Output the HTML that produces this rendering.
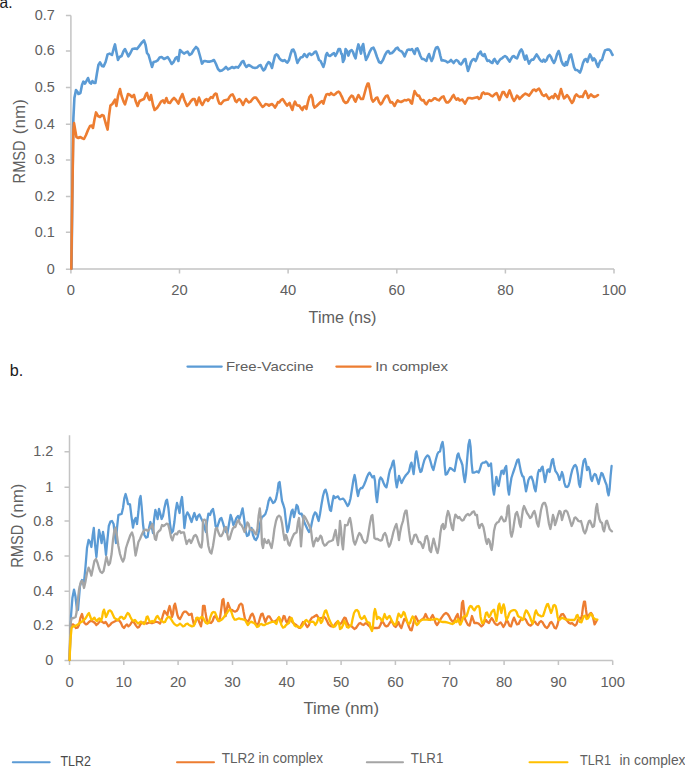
<!DOCTYPE html>
<html lang="en"><head><meta charset="utf-8"><title>RMSD plots</title>
<style>html,body{margin:0;padding:0;background:#fff}body{width:685px;height:768px;overflow:hidden}svg{display:block}text{font-family:"Liberation Sans", sans-serif;fill:#606060}.ln{fill:none;stroke-linejoin:round;stroke-linecap:round}.ax{stroke:#c4c4c4;stroke-width:1.5;fill:none;shape-rendering:auto}</style></head><body>
<svg width="685" height="768" viewBox="0 0 685 768">
<rect width="685" height="768" fill="#ffffff"/>
<path class="ax" d="M70.9,15.5 V269.1 H614.0 M65.9,269.2 H70.9 M65.9,232.3 H70.9 M65.9,196.6 H70.9 M65.9,159.9 H70.9 M65.9,124.2 H70.9 M65.9,87.6 H70.9 M65.9,51.0 H70.9 M65.9,15.5 H70.9 M70.9,269.1 V273.6 M179.5,269.1 V273.6 M288.1,269.1 V273.6 M396.8,269.1 V273.6 M505.4,269.1 V273.6 M614.0,269.1 V273.6"/>
<text transform="translate(54.9,273.5) scale(.95,1)" font-size="15.2" text-anchor="end">0</text>
<text transform="translate(54.9,236.6) scale(.95,1)" font-size="15.2" text-anchor="end">0.1</text>
<text transform="translate(54.9,200.9) scale(.95,1)" font-size="15.2" text-anchor="end">0.2</text>
<text transform="translate(54.9,164.2) scale(.95,1)" font-size="15.2" text-anchor="end">0.3</text>
<text transform="translate(54.9,128.5) scale(.95,1)" font-size="15.2" text-anchor="end">0.4</text>
<text transform="translate(54.9,91.9) scale(.95,1)" font-size="15.2" text-anchor="end">0.5</text>
<text transform="translate(54.9,55.3) scale(.95,1)" font-size="15.2" text-anchor="end">0.6</text>
<text transform="translate(54.9,19.8) scale(.95,1)" font-size="15.2" text-anchor="end">0.7</text>
<text transform="translate(70.9,295.2) scale(.97,1)" font-size="15.2" text-anchor="middle">0</text>
<text transform="translate(179.5,295.2) scale(.97,1)" font-size="15.2" text-anchor="middle">20</text>
<text transform="translate(288.1,295.2) scale(.97,1)" font-size="15.2" text-anchor="middle">40</text>
<text transform="translate(396.8,295.2) scale(.97,1)" font-size="15.2" text-anchor="middle">60</text>
<text transform="translate(505.4,295.2) scale(.97,1)" font-size="15.2" text-anchor="middle">80</text>
<text transform="translate(614.0,295.2) scale(.97,1)" font-size="15.2" text-anchor="middle">100</text>
<text transform="translate(24.8,183.4) rotate(-90)" font-size="16.4" textLength="43" lengthAdjust="spacingAndGlyphs">RMSD</text>
<text transform="translate(24.8,134.2) rotate(-90)" font-size="16.4" textLength="35" lengthAdjust="spacingAndGlyphs">(nm)</text>
<text x="308.6" y="322.8" font-size="16.8" textLength="67.9" lengthAdjust="spacingAndGlyphs">Time (ns)</text>
<path class="ln" stroke="#5b9bd5" stroke-width="2.6" d="M71.5,268.8 L72.3,200.0 L73.2,125.0 L73.4,118.0 L74.4,98.0 L76.0,90.0 L77.6,92.0 L78.4,94.0 L80.4,93.0 L82.0,85.0 L83.4,81.6 L85.0,83.6 L86.4,81.0 L88.0,78.0 L89.6,82.4 L91.0,83.6 L92.4,81.0 L94.0,83.0 L95.4,83.0 L97.0,73.0 L98.4,65.0 L100.0,62.4 L102.0,66.0 L103.6,66.4 L105.6,62.0 L107.6,54.4 L109.6,53.6 L112.0,55.0 L113.6,49.0 L115.0,44.4 L116.4,52.0 L118.0,60.0 L119.6,57.0 L121.6,56.0 L123.6,51.0 L125.0,49.0 L126.4,52.0 L128.4,56.4 L130.4,53.0 L132.4,49.0 L135.0,48.4 L137.0,49.0 L139.6,45.6 L142.0,42.4 L144.0,40.4 L145.6,45.0 L147.0,53.0 L148.6,55.0 L150.0,60.0 L152.0,67.0 L153.6,62.0 L155.6,61.6 L157.6,60.4 L159.6,57.6 L161.6,57.0 L164.0,59.0 L166.0,58.0 L167.6,57.0 L169.6,60.0 L171.6,64.0 L173.6,62.0 L175.6,58.0 L177.0,57.0 L178.4,61.0 L180.0,50.0 L182.0,52.0 L184.0,53.6 L186.0,52.4 L187.6,51.6 L189.6,55.0 L191.6,53.6 L193.6,50.0 L196.0,47.0 L198.0,49.0 L200.0,56.0 L202.0,63.6 L204.0,61.0 L205.0,61.0 L207.4,61.6 L210.0,61.6 L212.0,61.0 L214.0,60.0 L216.0,64.0 L218.0,69.0 L220.0,71.0 L222.0,70.4 L224.0,69.0 L226.0,67.0 L228.0,69.4 L230.0,68.4 L232.0,67.0 L234.0,68.0 L236.0,67.0 L238.0,67.6 L240.0,65.0 L242.0,61.6 L243.4,61.0 L245.0,65.0 L246.4,67.0 L248.6,65.0 L250.6,66.0 L253.0,67.6 L255.0,68.0 L257.0,67.6 L259.0,65.6 L260.6,65.0 L262.0,68.0 L263.4,70.4 L265.0,69.0 L266.6,65.0 L268.6,62.0 L270.0,63.0 L272.0,68.0 L273.4,62.0 L275.0,55.6 L276.6,54.4 L278.0,55.6 L279.4,58.4 L281.0,60.0 L283.0,61.0 L284.6,60.0 L286.0,61.6 L287.4,62.6 L289.0,60.0 L290.6,54.0 L292.0,50.0 L293.4,49.6 L295.0,53.0 L296.6,60.0 L297.4,63.0 L299.0,60.0 L300.6,57.6 L302.6,57.0 L304.4,54.0 L306.0,56.0 L307.0,57.0 L308.6,54.0 L310.0,53.6 L311.4,55.0 L313.0,54.0 L314.6,52.0 L316.0,51.6 L317.4,55.0 L319.0,60.0 L320.6,61.0 L322.0,64.0 L323.4,67.0 L324.6,63.0 L326.0,55.0 L327.0,53.0 L328.6,55.6 L330.0,56.0 L332.0,54.4 L334.0,53.0 L335.4,56.0 L337.0,53.0 L338.6,49.0 L340.0,49.0 L341.4,54.0 L342.0,54.0 L343.0,62.0 L344.4,59.0 L345.6,49.0 L347.0,51.0 L348.4,55.6 L350.0,51.0 L351.6,50.0 L353.0,52.0 L354.4,56.0 L355.6,58.4 L357.0,50.0 L358.4,44.4 L359.6,48.0 L361.0,53.6 L362.0,47.0 L363.2,44.0 L364.4,52.0 L366.0,60.0 L367.6,57.0 L369.6,52.0 L371.6,48.4 L373.4,47.6 L375.0,51.0 L377.0,57.0 L379.0,62.0 L381.0,63.0 L383.0,60.0 L385.0,55.0 L387.0,51.6 L388.4,51.0 L390.0,53.6 L392.0,53.0 L394.0,51.0 L396.0,48.4 L397.6,47.6 L399.0,50.0 L400.6,51.0 L402.0,51.6 L403.4,54.0 L404.6,56.4 L406.0,53.0 L407.4,50.0 L409.0,49.6 L410.4,50.0 L412.0,49.0 L413.4,51.6 L414.6,54.0 L416.0,49.0 L417.4,48.4 L419.0,52.0 L420.4,56.0 L422.0,59.0 L423.6,59.0 L425.0,60.0 L426.4,61.0 L427.6,57.0 L429.0,54.0 L430.4,58.0 L431.6,61.0 L433.0,58.0 L434.4,52.0 L436.0,47.6 L437.6,47.0 L439.0,50.0 L440.4,56.0 L441.6,60.4 L443.6,60.4 L445.6,61.0 L447.6,62.4 L449.4,61.6 L451.0,60.0 L452.4,61.6 L453.6,63.0 L455.0,61.0 L456.4,60.0 L458.0,61.0 L459.6,63.6 L461.0,64.4 L462.6,62.4 L464.0,59.6 L465.4,59.0 L466.6,65.0 L468.0,71.0 L469.4,67.0 L471.0,62.0 L472.6,59.6 L474.0,59.0 L475.6,61.0 L477.0,58.0 L478.4,53.6 L479.0,53.6 L480.6,51.6 L482.0,55.0 L483.4,56.0 L484.6,54.0 L486.0,58.0 L487.4,61.0 L489.0,60.4 L490.6,62.0 L492.4,63.0 L493.6,60.0 L494.6,59.0 L496.0,61.6 L497.4,63.6 L499.0,61.0 L500.6,59.0 L502.0,58.4 L503.4,57.0 L505.0,56.0 L506.6,57.0 L508.2,59.6 L509.6,61.6 L511.0,59.0 L512.6,56.4 L514.0,56.0 L515.4,57.6 L517.0,58.4 L518.4,55.0 L520.0,51.0 L521.4,49.4 L522.6,51.6 L524.0,57.0 L525.0,59.6 L526.4,55.6 L527.6,59.6 L529.0,63.6 L530.4,61.0 L532.0,59.6 L533.4,59.6 L535.0,57.0 L536.6,54.4 L538.0,56.4 L539.4,59.0 L541.0,61.0 L542.4,61.6 L543.6,59.6 L545.0,61.6 L546.6,60.0 L548.0,56.4 L549.6,55.0 L551.0,57.0 L552.4,60.4 L554.0,63.0 L555.4,60.0 L557.0,54.4 L558.6,51.0 L560.0,55.0 L561.4,61.0 L563.0,64.4 L564.6,65.6 L566.0,62.0 L567.0,65.0 L568.4,60.0 L569.6,55.6 L571.0,54.4 L572.4,60.0 L574.0,67.0 L575.4,70.0 L577.0,70.0 L578.4,71.0 L580.0,72.6 L581.4,69.0 L583.0,63.0 L584.6,59.6 L586.0,59.0 L587.4,62.0 L588.6,58.0 L590.0,54.4 L591.4,57.0 L592.6,60.4 L594.0,58.4 L595.4,60.0 L596.6,64.0 L598.0,67.0 L599.4,63.0 L600.6,60.4 L602.0,60.0 L603.4,55.0 L605.0,50.4 L607.0,49.6 L609.0,49.6 L610.6,51.0 L612.0,54.0 L612.6,55.0"/>
<path class="ln" stroke="#ed7d31" stroke-width="2.6" d="M71.3,268.8 L72.2,200.0 L73.4,130.0 L74.0,123.0 L75.2,130.0 L76.4,137.0 L78.4,138.0 L80.4,137.0 L82.4,138.4 L84.0,139.0 L86.0,135.0 L88.0,130.0 L90.0,126.0 L91.6,125.6 L93.0,128.0 L94.4,120.0 L96.0,112.4 L98.0,116.0 L100.0,117.0 L102.0,115.0 L103.6,115.6 L105.6,123.0 L107.6,129.6 L109.0,116.0 L110.4,105.6 L112.4,104.0 L115.0,99.6 L116.4,106.0 L118.0,96.0 L120.0,89.0 L121.6,96.0 L123.6,101.6 L125.0,104.4 L126.6,99.0 L128.0,94.0 L130.0,95.0 L132.0,97.0 L134.0,95.0 L135.6,101.0 L137.6,106.0 L139.6,101.0 L141.6,100.0 L144.0,99.0 L146.0,94.0 L147.0,93.0 L148.4,98.0 L149.6,100.0 L151.0,95.0 L153.0,105.0 L154.6,110.0 L157.0,108.0 L159.0,105.0 L161.0,101.6 L163.0,100.4 L164.4,103.0 L166.4,98.0 L168.0,102.4 L170.0,103.0 L172.0,100.0 L174.0,98.0 L176.0,100.0 L178.4,103.6 L180.4,98.0 L182.4,94.0 L184.4,100.0 L187.0,106.0 L189.0,104.0 L191.0,101.0 L193.0,99.0 L194.6,99.0 L196.6,105.0 L199.0,97.6 L201.0,103.0 L202.4,105.0 L205.0,100.0 L206.6,99.0 L208.0,101.0 L209.4,99.0 L211.0,97.0 L212.6,98.0 L214.0,95.0 L215.4,93.6 L216.6,94.0 L218.0,100.0 L219.4,103.6 L221.0,104.0 L222.6,102.0 L224.0,100.4 L226.0,100.0 L228.0,99.6 L229.4,97.0 L231.0,95.0 L232.6,94.4 L234.0,97.0 L235.4,101.0 L236.6,102.0 L238.0,100.0 L239.4,99.0 L241.0,101.0 L243.0,105.0 L244.4,102.0 L246.0,99.0 L247.4,101.0 L249.0,102.4 L250.6,101.6 L252.6,99.0 L254.0,97.6 L256.0,97.6 L257.4,99.6 L259.4,102.4 L261.0,105.0 L262.6,107.0 L264.0,106.0 L265.6,104.0 L267.4,104.4 L269.0,105.6 L270.6,104.4 L272.0,104.0 L273.6,105.6 L275.0,107.6 L276.6,105.0 L278.0,102.0 L279.4,102.4 L281.0,100.0 L282.6,99.0 L284.0,101.0 L285.6,103.6 L287.0,105.6 L288.6,104.0 L289.6,103.0 L291.0,107.0 L292.4,110.0 L293.6,105.0 L295.0,101.6 L296.6,105.0 L298.0,105.6 L299.4,105.6 L301.0,108.4 L302.4,110.0 L303.6,107.0 L305.0,106.4 L306.4,109.0 L308.0,102.0 L309.4,97.0 L311.0,95.0 L312.4,98.0 L313.4,105.0 L314.6,107.6 L316.6,106.0 L318.6,104.0 L320.6,102.0 L322.0,101.0 L323.4,103.6 L325.0,98.0 L326.4,94.4 L328.0,94.0 L329.4,95.0 L331.0,93.0 L332.4,94.4 L334.0,95.0 L335.4,94.0 L337.0,92.4 L338.6,91.6 L340.0,93.0 L341.4,96.0 L342.0,97.0 L343.6,101.0 L345.6,103.0 L347.6,102.0 L349.6,98.0 L351.6,95.6 L353.0,96.4 L354.4,100.0 L355.6,101.6 L357.0,98.0 L358.4,95.0 L359.6,97.0 L361.0,99.0 L363.0,99.0 L364.4,94.0 L366.0,88.0 L367.6,83.6 L368.6,83.6 L370.0,90.0 L371.6,99.0 L373.0,101.6 L374.6,100.0 L376.0,98.0 L377.4,97.6 L379.0,102.0 L380.6,104.4 L382.0,103.0 L384.0,99.0 L386.0,96.0 L387.6,95.6 L389.0,99.0 L390.4,102.4 L392.0,102.0 L393.4,104.0 L394.6,106.0 L396.0,103.0 L397.6,100.4 L399.4,101.6 L401.0,102.0 L403.0,101.0 L404.6,100.0 L406.4,100.4 L408.0,99.6 L409.6,100.0 L411.0,103.0 L412.0,103.6 L413.4,96.0 L414.6,91.0 L416.0,93.6 L417.4,95.6 L419.0,95.6 L420.6,99.0 L422.0,100.4 L423.6,100.0 L425.0,103.0 L426.4,104.4 L428.0,101.6 L429.4,100.0 L431.0,101.0 L432.6,100.0 L434.0,98.4 L435.6,98.4 L437.0,99.6 L439.0,100.4 L440.6,98.4 L442.0,97.0 L443.6,96.4 L445.0,100.0 L446.4,102.4 L448.0,102.4 L449.6,101.0 L451.0,99.0 L452.4,96.4 L453.6,95.0 L455.0,98.0 L456.4,99.6 L458.0,98.4 L459.6,100.4 L461.0,100.0 L462.4,99.6 L463.6,101.6 L465.0,103.6 L466.4,101.0 L468.0,98.0 L470.0,98.0 L472.0,98.4 L474.0,98.0 L476.0,97.6 L477.6,97.0 L479.0,99.0 L480.6,98.0 L482.0,93.6 L483.4,92.4 L485.0,94.0 L487.0,93.6 L489.0,94.0 L491.0,95.6 L492.6,96.4 L494.6,94.4 L496.6,93.0 L498.0,96.0 L499.4,100.0 L501.0,96.0 L502.6,92.0 L504.0,92.0 L505.4,95.0 L507.0,97.0 L508.4,93.0 L509.6,90.4 L511.0,94.0 L512.4,98.0 L514.0,101.0 L515.4,99.0 L517.0,95.6 L518.4,97.0 L519.6,99.0 L521.4,97.0 L523.4,95.0 L525.4,93.6 L527.0,94.4 L529.0,95.6 L531.0,93.0 L533.0,90.0 L534.6,89.6 L536.0,91.0 L537.4,89.6 L539.0,88.6 L540.4,91.0 L542.0,94.4 L544.0,96.0 L546.0,94.4 L547.6,97.0 L549.0,99.0 L550.6,97.6 L552.0,96.4 L553.4,98.0 L555.0,94.0 L556.6,96.0 L558.4,99.0 L559.6,94.0 L561.0,89.0 L562.4,94.0 L564.0,98.4 L565.6,97.0 L567.0,95.0 L568.6,97.0 L570.4,100.4 L572.0,103.0 L573.4,101.0 L575.0,96.0 L576.4,94.4 L578.0,96.0 L579.6,97.0 L581.0,96.4 L582.6,97.0 L584.0,93.6 L585.4,91.0 L587.0,94.0 L588.2,98.0 L589.6,96.0 L591.0,94.4 L592.6,96.0 L594.4,97.0 L596.0,96.4 L598.0,95.0"/>
<path class="ln" stroke="#5b9bd5" stroke-width="2.3" d="M187.5,366.6 H221.7"/>
<text x="226" y="371" font-size="13.4" textLength="87.5" lengthAdjust="spacingAndGlyphs">Free-Vaccine</text>
<path class="ln" stroke="#ed7d31" stroke-width="2.3" d="M336.4,366.6 H370.6"/>
<text x="375.2" y="371" font-size="13.4" textLength="72.8" lengthAdjust="spacingAndGlyphs">In complex</text>
<text x="-0.4" y="7.8" font-size="15.6" fill="#1a1a1a" style="fill:#1a1a1a">a.</text>
<text x="9.8" y="376" font-size="16.2" style="fill:#1a1a1a">b.</text>
<path class="ax" d="M69.5,435.3 V660.4 H612.7 M64.5,660.4 H69.5 M64.5,625.5 H69.5 M64.5,591.3 H69.5 M64.5,556.1 H69.5 M64.5,520.9 H69.5 M64.5,487.2 H69.5 M64.5,451.7 H69.5 M69.5,660.4 V664.9 M123.8,660.4 V664.9 M178.1,660.4 V664.9 M232.5,660.4 V664.9 M286.8,660.4 V664.9 M341.1,660.4 V664.9 M395.4,660.4 V664.9 M449.7,660.4 V664.9 M504.1,660.4 V664.9 M558.4,660.4 V664.9 M612.7,660.4 V664.9"/>
<text transform="translate(53.2,665.0) scale(.95,1)" font-size="15.2" text-anchor="end">0</text>
<text transform="translate(53.2,630.1) scale(.95,1)" font-size="15.2" text-anchor="end">0.2</text>
<text transform="translate(53.2,595.9) scale(.95,1)" font-size="15.2" text-anchor="end">0.4</text>
<text transform="translate(53.2,560.7) scale(.95,1)" font-size="15.2" text-anchor="end">0.6</text>
<text transform="translate(53.2,525.5) scale(.95,1)" font-size="15.2" text-anchor="end">0.8</text>
<text transform="translate(53.2,491.8) scale(.95,1)" font-size="15.2" text-anchor="end">1</text>
<text transform="translate(53.2,456.3) scale(.95,1)" font-size="15.2" text-anchor="end">1.2</text>
<text transform="translate(69.5,686.8) scale(.97,1)" font-size="15.2" text-anchor="middle">0</text>
<text transform="translate(123.8,686.8) scale(.97,1)" font-size="15.2" text-anchor="middle">10</text>
<text transform="translate(178.1,686.8) scale(.97,1)" font-size="15.2" text-anchor="middle">20</text>
<text transform="translate(232.5,686.8) scale(.97,1)" font-size="15.2" text-anchor="middle">30</text>
<text transform="translate(286.8,686.8) scale(.97,1)" font-size="15.2" text-anchor="middle">40</text>
<text transform="translate(341.1,686.8) scale(.97,1)" font-size="15.2" text-anchor="middle">50</text>
<text transform="translate(395.4,686.8) scale(.97,1)" font-size="15.2" text-anchor="middle">60</text>
<text transform="translate(449.7,686.8) scale(.97,1)" font-size="15.2" text-anchor="middle">70</text>
<text transform="translate(504.1,686.8) scale(.97,1)" font-size="15.2" text-anchor="middle">80</text>
<text transform="translate(558.4,686.8) scale(.97,1)" font-size="15.2" text-anchor="middle">90</text>
<text transform="translate(612.7,686.8) scale(.97,1)" font-size="15.2" text-anchor="middle">100</text>
<text transform="translate(23.4,567.7) rotate(-90)" font-size="16.4" textLength="43" lengthAdjust="spacingAndGlyphs">RMSD</text>
<text transform="translate(23.4,518.5) rotate(-90)" font-size="16.4" textLength="35" lengthAdjust="spacingAndGlyphs">(nm)</text>
<text x="303.5" y="714.2" font-size="16.8" textLength="75.6" lengthAdjust="spacingAndGlyphs">Time (nm)</text>
<path class="ln" stroke="#5b9bd5" stroke-width="2.3" d="M69.6,660.0 L71.0,616.0 L72.4,598.0 L74.0,589.6 L75.4,596.0 L77.0,610.0 L78.0,610.0 L80.0,586.0 L82.0,580.0 L84.0,582.0 L85.4,568.0 L87.0,548.0 L88.6,540.0 L90.0,542.0 L91.4,547.0 L92.6,536.0 L93.8,528.0 L95.0,544.0 L96.4,557.0 L97.6,544.0 L99.0,530.0 L100.4,536.0 L101.6,543.0 L103.0,532.0 L104.4,540.0 L106.0,555.0 L107.4,540.0 L108.8,526.0 L110.4,521.6 L112.0,521.0 L113.6,524.0 L115.0,536.0 L116.0,543.0 L117.0,528.0 L118.4,515.0 L120.0,514.4 L121.6,514.0 L123.0,508.0 L124.4,498.0 L125.6,494.0 L127.0,499.0 L128.0,504.0 L130.0,504.4 L131.4,516.0 L133.0,527.6 L134.4,520.0 L135.6,518.0 L137.0,524.0 L138.4,512.0 L139.6,499.0 L140.6,496.0 L141.6,506.0 L143.0,524.0 L144.4,535.0 L146.0,537.6 L147.6,537.0 L149.0,528.0 L150.4,522.0 L151.6,526.0 L153.0,533.0 L154.0,520.0 L155.4,510.0 L156.6,514.0 L157.6,519.0 L159.0,509.0 L160.4,514.0 L161.6,519.0 L163.0,516.0 L164.4,508.0 L166.0,501.0 L167.0,499.6 L168.4,508.0 L170.0,524.0 L171.4,533.0 L173.0,531.0 L174.4,522.0 L175.6,511.0 L177.0,503.0 L178.4,508.0 L179.6,513.0 L180.8,502.0 L182.0,497.0 L183.2,510.0 L184.4,528.0 L186.0,516.0 L187.4,512.4 L189.0,515.0 L190.4,519.0 L191.6,522.0 L193.0,517.0 L194.4,513.0 L195.6,517.0 L196.6,520.0 L198.0,516.0 L199.4,514.4 L201.0,518.0 L203.0,522.0 L204.6,528.0 L206.0,532.0 L207.0,522.0 L208.4,513.6 L210.0,515.0 L211.4,511.0 L213.0,509.0 L214.4,516.0 L215.6,526.0 L217.0,528.0 L218.6,523.0 L220.0,519.0 L221.4,518.0 L223.0,523.0 L224.4,528.0 L226.0,532.0 L227.4,533.0 L229.0,524.0 L230.6,515.0 L232.0,519.0 L233.4,525.0 L235.0,522.0 L236.4,518.0 L238.0,516.0 L239.4,519.0 L241.0,514.0 L242.6,508.4 L244.0,518.0 L245.4,530.0 L247.0,536.0 L248.6,535.0 L250.0,529.0 L251.6,528.0 L253.0,535.0 L254.6,539.0 L256.0,540.0 L257.6,537.0 L259.0,531.0 L260.4,522.0 L262.0,517.0 L263.6,516.0 L265.4,514.0 L267.0,509.0 L268.6,501.0 L270.0,497.6 L271.4,500.0 L273.0,503.0 L274.6,502.0 L276.0,499.0 L277.4,492.0 L278.6,483.0 L279.6,482.0 L280.6,490.0 L282.0,501.0 L283.4,505.0 L284.6,509.0 L286.0,522.0 L287.4,532.0 L288.6,528.0 L290.0,519.0 L291.4,511.6 L292.6,509.6 L294.0,517.0 L295.4,511.0 L296.6,505.0 L297.8,506.4 L299.0,513.0 L300.4,514.0 L301.6,513.6 L303.0,518.0 L304.6,523.0 L306.0,526.0 L307.4,529.0 L309.0,532.0 L310.6,529.0 L312.0,522.0 L313.4,516.0 L315.0,512.4 L316.4,513.6 L317.6,518.0 L318.6,521.0 L320.0,514.0 L321.4,505.0 L323.0,496.0 L324.4,491.0 L325.6,489.6 L327.0,494.0 L328.6,503.0 L330.0,510.0 L331.0,511.0 L332.4,502.0 L333.6,496.0 L335.0,498.0 L336.6,497.0 L338.0,496.4 L339.4,499.0 L340.0,499.4 L341.6,499.0 L343.0,498.6 L344.4,500.0 L346.0,503.0 L347.6,506.0 L349.0,504.0 L350.4,499.0 L352.0,489.0 L353.4,480.0 L354.6,475.0 L355.6,480.0 L357.0,491.0 L358.0,496.0 L359.4,490.0 L361.0,488.0 L362.4,488.0 L364.0,485.0 L365.6,481.0 L367.0,477.0 L368.4,474.0 L369.6,472.6 L371.0,475.0 L372.4,477.4 L374.0,476.0 L375.0,481.0 L376.0,495.0 L377.0,502.0 L378.0,493.0 L379.4,480.0 L380.6,477.4 L382.0,479.0 L383.6,483.0 L385.0,486.0 L386.4,487.4 L387.6,482.0 L389.0,474.0 L390.0,470.0 L391.4,467.0 L392.6,462.6 L393.6,460.6 L394.6,468.0 L395.6,480.0 L396.8,487.4 L398.0,481.0 L399.0,476.0 L400.4,480.0 L401.6,483.0 L403.0,480.0 L404.4,477.4 L406.0,475.0 L407.6,473.4 L409.0,471.4 L410.4,465.0 L411.4,462.6 L412.4,467.0 L413.6,474.0 L414.6,465.0 L415.6,454.0 L416.4,451.4 L417.6,458.0 L419.0,467.0 L420.4,472.0 L421.6,471.0 L423.0,465.0 L424.4,460.0 L426.0,457.0 L427.6,455.4 L429.0,456.6 L430.4,461.0 L432.0,467.0 L433.4,470.0 L434.6,465.0 L436.0,459.0 L437.4,454.0 L438.6,452.0 L440.0,451.4 L441.4,445.0 L442.6,442.0 L443.6,449.0 L444.6,465.0 L445.6,474.6 L447.0,474.0 L448.4,471.0 L450.0,468.0 L451.4,468.6 L453.0,470.0 L454.6,471.0 L456.0,463.0 L457.4,455.0 L458.4,453.4 L459.6,458.0 L461.0,461.0 L462.4,465.0 L463.6,475.0 L464.8,482.0 L466.0,474.0 L467.2,459.0 L468.4,445.0 L469.6,440.0 L470.6,447.0 L471.6,463.0 L472.6,472.6 L474.0,472.6 L475.6,472.0 L477.0,471.4 L478.6,472.6 L480.0,469.0 L481.4,464.0 L483.0,462.6 L484.6,462.6 L486.0,461.4 L487.4,463.0 L488.6,466.0 L490.0,465.0 L491.0,463.4 L492.0,475.0 L493.0,489.0 L494.0,494.6 L495.0,487.0 L496.4,477.0 L497.6,483.0 L498.6,486.0 L500.0,478.0 L501.4,471.0 L502.6,470.6 L503.6,474.0 L505.0,468.0 L506.2,466.0 L507.0,475.0 L508.0,489.0 L509.0,494.6 L510.0,487.0 L511.4,478.0 L513.0,473.0 L514.4,469.0 L516.0,464.0 L517.4,460.0 L518.6,459.4 L519.6,465.0 L521.0,472.0 L522.4,476.0 L523.6,477.0 L525.0,485.0 L526.0,491.4 L527.0,487.0 L528.4,480.0 L530.0,477.0 L531.4,476.6 L533.0,481.0 L534.4,488.0 L535.6,491.4 L536.6,484.0 L538.0,473.0 L539.0,470.0 L540.4,471.0 L541.4,468.0 L542.6,466.6 L543.6,473.0 L545.0,482.0 L546.0,477.0 L547.4,470.0 L548.6,469.4 L549.6,472.0 L550.6,467.0 L552.0,460.0 L553.0,459.0 L554.0,465.0 L555.4,471.0 L556.6,472.6 L558.0,475.0 L559.4,480.0 L560.6,477.0 L562.0,472.0 L563.0,475.0 L564.4,483.0 L565.6,486.6 L567.0,487.0 L568.4,486.0 L569.6,482.0 L571.0,475.0 L572.4,469.4 L574.0,466.0 L575.4,465.0 L576.6,467.0 L578.0,475.0 L579.0,484.0 L580.0,487.0 L581.0,480.0 L582.4,468.0 L583.6,461.0 L585.0,459.0 L586.0,463.0 L587.0,470.0 L588.4,467.0 L589.6,470.0 L591.0,479.0 L592.0,481.0 L593.4,476.0 L594.6,474.0 L596.0,475.0 L597.4,480.0 L598.6,484.0 L600.0,478.0 L601.4,473.0 L602.6,474.0 L604.0,478.0 L605.4,482.0 L606.6,485.0 L607.6,492.0 L608.6,495.4 L609.6,489.0 L610.6,476.0 L611.6,466.0"/>
<path class="ln" stroke="#ed7d31" stroke-width="2.3" d="M69.6,660.0 L70.4,630.0 L71.6,625.0 L73.0,624.4 L74.4,625.6 L76.0,628.0 L77.6,627.6 L79.0,625.0 L80.4,618.0 L82.0,614.0 L83.0,618.0 L84.4,623.0 L86.0,624.4 L87.6,623.6 L89.0,622.0 L90.4,621.0 L92.0,621.0 L93.6,622.0 L95.0,623.0 L96.4,625.0 L98.0,623.6 L99.6,621.6 L101.0,621.0 L102.4,622.0 L104.0,623.0 L105.6,622.0 L107.0,624.0 L108.4,626.4 L110.0,625.0 L111.6,623.0 L113.6,622.0 L115.6,621.0 L117.6,620.0 L119.6,621.0 L121.0,623.0 L122.4,626.4 L124.0,628.0 L125.6,625.6 L127.0,624.4 L128.4,626.4 L130.0,625.0 L131.6,622.4 L133.0,621.0 L134.4,623.0 L136.0,625.6 L137.6,627.6 L139.0,627.0 L140.4,624.4 L142.0,623.0 L143.6,622.4 L145.0,623.0 L146.6,623.6 L148.0,623.0 L149.6,622.4 L151.0,623.0 L152.6,623.0 L154.0,622.4 L155.6,621.6 L157.0,622.0 L158.4,622.4 L160.0,623.6 L161.6,620.0 L163.0,615.0 L164.4,611.0 L166.0,613.0 L167.4,615.0 L168.4,610.0 L169.6,606.0 L170.6,610.0 L172.0,617.0 L173.0,614.0 L174.0,606.0 L175.0,603.6 L176.0,608.0 L177.4,615.0 L178.6,618.0 L180.0,619.0 L181.6,616.0 L183.0,613.0 L184.4,611.6 L186.0,611.6 L187.4,613.0 L189.0,615.0 L190.4,614.4 L191.6,613.6 L192.6,619.0 L194.0,625.0 L195.4,622.0 L196.6,618.0 L198.0,619.0 L199.6,623.0 L201.0,626.4 L202.0,620.0 L203.0,606.0 L204.6,606.0 L205.4,612.0 L206.6,619.0 L208.0,623.0 L209.4,622.4 L211.0,623.0 L212.6,621.0 L214.0,617.0 L215.4,616.0 L217.0,619.0 L218.4,621.0 L220.0,618.0 L221.4,608.0 L222.4,600.0 L223.4,599.0 L224.6,608.0 L225.6,616.0 L226.6,610.0 L228.0,603.0 L229.0,606.0 L230.6,610.0 L232.0,610.0 L233.4,611.0 L235.0,611.6 L236.6,611.0 L238.0,609.0 L239.4,605.0 L241.0,603.6 L242.4,605.0 L243.6,612.0 L245.0,619.0 L246.6,621.0 L248.0,621.6 L249.4,619.0 L251.0,615.0 L252.4,613.6 L254.0,617.0 L255.4,623.0 L257.0,625.0 L258.6,623.0 L260.0,618.0 L261.4,614.0 L262.6,613.6 L264.0,618.0 L265.4,622.0 L266.6,619.0 L268.0,616.4 L269.4,616.4 L271.0,619.0 L272.6,621.6 L274.0,622.0 L275.4,621.0 L277.0,620.0 L278.4,618.0 L279.6,619.0 L281.0,623.0 L282.4,620.0 L283.6,616.0 L284.6,616.4 L286.0,621.0 L287.4,623.0 L288.6,619.0 L289.6,617.0 L291.0,620.0 L292.6,622.4 L294.0,623.6 L295.4,624.4 L297.0,625.6 L298.6,627.6 L300.0,628.0 L301.4,625.0 L303.0,622.0 L304.6,622.4 L306.0,625.0 L307.4,627.0 L309.0,625.0 L310.4,620.0 L312.0,617.6 L313.6,617.0 L315.0,616.0 L316.6,615.0 L318.0,617.0 L319.4,619.0 L321.0,618.0 L322.4,617.6 L324.0,617.0 L325.4,618.0 L327.0,621.0 L328.6,624.4 L330.0,625.6 L331.6,626.4 L333.0,626.4 L334.6,625.0 L336.0,623.0 L337.4,621.6 L339.0,623.0 L340.0,624.0 L341.6,623.0 L343.0,620.0 L344.4,617.6 L345.6,618.0 L347.0,622.0 L348.4,625.0 L350.0,626.0 L351.6,626.4 L353.0,627.6 L354.4,629.0 L356.0,628.0 L357.6,625.6 L359.0,623.6 L360.4,623.0 L362.0,624.4 L363.6,625.0 L365.0,623.6 L366.4,623.0 L368.0,625.0 L369.6,626.4 L371.0,627.6 L373.0,628.0 L375.0,628.0 L377.0,628.0 L379.0,627.6 L380.4,625.0 L382.0,621.0 L383.6,623.0 L385.0,625.6 L386.4,626.4 L388.0,625.6 L389.6,623.0 L391.0,621.0 L392.4,622.4 L394.0,625.6 L395.6,627.0 L397.0,625.0 L398.4,622.0 L400.0,626.0 L401.4,628.0 L403.0,623.0 L404.4,619.0 L406.0,620.0 L407.6,623.0 L409.0,627.0 L410.4,630.0 L411.6,630.4 L413.0,625.0 L414.4,619.0 L415.6,616.4 L417.0,619.0 L418.4,622.0 L420.0,621.0 L421.6,619.6 L423.0,619.0 L424.4,617.0 L425.6,614.0 L427.0,617.0 L428.4,619.6 L430.0,620.0 L431.4,617.0 L432.6,615.0 L434.0,618.0 L435.6,623.0 L437.0,625.0 L438.4,623.0 L440.0,620.0 L441.6,617.6 L443.0,615.6 L444.4,614.0 L446.0,613.0 L447.6,614.0 L449.0,616.0 L450.4,619.0 L452.0,621.0 L453.4,622.0 L455.0,619.0 L456.4,616.0 L457.6,614.0 L458.6,619.0 L460.0,624.4 L461.0,616.0 L462.0,603.0 L463.0,601.0 L464.0,610.0 L465.0,619.0 L466.4,622.0 L468.0,625.0 L469.6,625.6 L471.0,620.0 L472.0,616.0 L473.0,619.0 L474.4,623.0 L476.0,623.0 L477.0,623.0 L478.6,623.6 L480.0,625.0 L481.4,626.4 L483.0,625.0 L484.4,622.0 L486.0,620.0 L487.4,622.0 L489.0,623.0 L490.4,620.0 L491.6,618.0 L493.0,620.0 L494.6,623.0 L496.0,624.4 L497.4,625.0 L499.0,623.6 L500.6,622.4 L502.0,624.4 L503.4,627.0 L505.0,624.4 L506.6,620.0 L508.0,622.0 L509.4,625.6 L511.0,626.4 L512.6,621.0 L514.0,617.6 L515.4,621.0 L517.0,624.4 L518.6,624.0 L520.0,621.0 L521.4,619.0 L523.0,619.0 L524.6,618.4 L526.0,620.0 L527.4,623.0 L529.0,625.0 L530.6,625.6 L532.0,624.4 L533.4,622.0 L535.0,621.6 L536.4,624.0 L538.0,625.0 L539.4,622.4 L541.0,621.0 L542.6,622.4 L544.0,625.0 L545.4,627.0 L547.0,628.0 L548.6,626.0 L550.0,623.0 L551.4,622.0 L553.0,624.4 L554.4,627.6 L556.0,628.4 L557.4,625.0 L558.6,620.0 L560.0,617.0 L561.4,614.4 L563.0,614.0 L564.4,616.0 L566.0,619.0 L567.4,621.0 L569.0,623.0 L570.6,623.6 L572.0,623.0 L573.4,624.4 L575.0,625.6 L576.4,624.4 L578.0,620.0 L579.4,618.0 L581.0,619.0 L582.0,615.0 L583.0,607.0 L584.0,601.6 L585.0,601.6 L586.0,610.0 L587.0,617.0 L588.4,616.0 L589.6,614.0 L591.0,613.0 L592.4,615.0 L593.6,620.0 L594.6,624.4 L596.0,622.0 L597.0,620.0"/>
<path class="ln" stroke="#a5a5a5" stroke-width="2.3" d="M69.6,660.0 L70.4,624.0 L71.6,618.4 L73.6,618.0 L75.6,617.0 L76.6,612.0 L77.6,602.0 L79.0,590.0 L80.4,583.6 L81.0,581.6 L82.4,581.0 L84.0,588.0 L85.4,582.0 L87.0,573.0 L88.6,567.6 L90.0,571.0 L91.4,575.6 L93.0,568.0 L94.4,561.0 L96.0,559.0 L97.6,563.0 L99.0,568.0 L100.4,571.6 L102.0,573.0 L103.6,571.0 L105.0,564.0 L106.4,556.6 L107.6,561.0 L108.6,565.0 L110.0,563.0 L111.6,554.0 L113.0,540.0 L114.4,530.0 L115.6,527.6 L117.0,536.0 L118.4,546.0 L120.0,554.0 L121.6,559.0 L123.0,561.6 L124.4,558.0 L126.0,548.0 L127.6,543.0 L129.0,539.0 L130.4,535.0 L132.0,532.4 L133.4,537.0 L134.6,548.0 L135.6,555.6 L137.0,549.0 L138.4,542.0 L140.0,539.0 L141.6,535.0 L143.0,532.0 L144.6,530.0 L146.0,529.6 L147.6,531.0 L149.0,529.6 L150.4,528.0 L151.6,525.6 L152.4,524.0 L153.6,531.0 L155.0,539.0 L156.0,540.0 L157.4,533.0 L159.0,531.0 L160.4,530.0 L162.0,525.0 L163.6,526.0 L165.0,525.0 L166.6,523.6 L168.0,524.0 L169.6,530.0 L171.0,537.0 L172.4,540.4 L174.0,535.0 L175.6,533.6 L177.0,534.4 L178.4,531.6 L179.6,531.0 L181.0,533.0 L182.4,532.4 L184.0,532.4 L185.4,539.0 L186.6,544.0 L188.0,541.0 L189.4,539.6 L191.0,543.0 L192.4,540.0 L194.0,536.0 L195.6,535.0 L197.0,537.0 L198.4,542.0 L200.0,546.4 L201.4,547.6 L202.4,540.0 L203.0,520.0 L204.6,519.6 L206.0,521.0 L207.0,534.0 L208.4,546.0 L210.0,552.0 L211.4,553.6 L213.0,546.0 L214.4,537.0 L215.6,529.0 L217.0,528.0 L218.6,533.0 L220.0,536.0 L221.4,536.0 L223.0,533.0 L224.6,528.0 L226.0,527.0 L227.0,533.0 L228.4,539.6 L229.6,539.0 L231.0,534.0 L232.6,529.0 L234.0,527.0 L235.4,527.0 L237.0,522.0 L238.6,520.0 L240.0,524.0 L241.4,525.0 L243.0,528.0 L244.6,532.0 L246.0,528.0 L247.4,522.4 L248.6,524.0 L250.0,529.0 L251.6,530.0 L253.0,529.6 L254.6,533.0 L256.0,534.4 L257.4,529.0 L258.6,516.0 L259.8,508.4 L261.0,520.0 L262.0,544.0 L263.0,548.0 L264.4,539.0 L265.6,542.0 L267.0,543.0 L268.4,540.0 L270.0,544.0 L271.6,548.0 L273.0,540.0 L274.4,529.0 L276.0,521.0 L277.4,517.0 L279.0,515.6 L280.6,517.0 L282.0,523.0 L283.4,533.0 L284.6,540.0 L286.0,535.0 L287.0,538.0 L288.4,544.0 L289.6,545.6 L291.0,541.0 L292.6,537.0 L294.0,534.0 L295.4,533.0 L296.6,532.4 L298.0,522.0 L299.0,518.0 L300.0,530.0 L301.0,546.4 L302.4,528.0 L303.6,515.6 L305.0,517.0 L306.6,520.0 L308.0,523.0 L309.4,526.0 L311.0,530.0 L312.2,540.0 L313.4,546.4 L315.0,541.0 L316.4,538.0 L317.6,541.0 L319.0,539.0 L320.4,535.6 L321.6,537.0 L323.0,543.0 L324.6,545.6 L326.0,545.0 L327.4,543.0 L329.0,541.6 L331.0,541.0 L333.0,540.0 L334.4,534.0 L335.6,530.0 L336.6,537.0 L338.0,545.0 L339.0,536.0 L340.0,521.0 L341.0,529.0 L342.0,543.0 L343.0,549.4 L344.0,537.0 L345.0,525.0 L346.4,525.4 L347.6,525.0 L349.0,520.0 L350.0,518.0 L351.0,523.0 L352.4,533.0 L353.6,541.0 L355.0,544.6 L356.4,541.0 L358.0,536.0 L359.4,533.0 L361.0,535.0 L362.4,539.0 L364.0,542.0 L365.4,543.0 L367.0,541.0 L368.4,533.0 L370.0,523.0 L371.4,516.0 L372.4,515.0 L373.4,525.0 L374.4,538.0 L376.0,539.0 L377.6,539.0 L379.0,540.0 L380.6,540.6 L382.0,540.0 L383.4,535.0 L385.0,533.0 L386.4,536.0 L387.6,542.0 L389.0,546.6 L390.4,544.0 L392.0,538.0 L393.4,532.0 L395.0,527.0 L396.4,524.0 L397.6,530.0 L399.0,540.0 L400.0,533.0 L401.4,526.0 L403.0,521.0 L404.4,514.0 L405.6,510.6 L406.6,510.6 L407.6,519.0 L409.0,531.0 L410.4,541.0 L411.6,544.0 L413.0,540.0 L414.4,535.0 L416.0,534.6 L417.4,538.0 L418.6,542.0 L420.0,542.0 L421.4,544.0 L423.0,548.0 L424.4,543.0 L425.6,537.0 L427.0,536.0 L428.4,541.0 L429.6,550.0 L431.0,552.0 L432.4,544.0 L433.6,538.6 L435.0,544.0 L436.4,550.0 L437.6,553.0 L439.0,546.0 L440.4,533.0 L441.6,526.0 L443.0,524.0 L444.0,529.0 L445.4,527.0 L446.6,517.0 L448.0,511.0 L449.4,515.0 L450.6,522.0 L452.0,528.0 L453.0,530.0 L454.0,521.0 L455.4,514.6 L456.6,516.0 L458.0,518.0 L459.4,517.0 L460.6,519.0 L462.0,520.6 L463.6,520.0 L465.0,517.0 L466.4,515.0 L468.0,514.0 L469.4,515.4 L471.0,514.0 L472.4,512.0 L474.0,511.4 L475.4,515.0 L477.0,515.0 L478.0,524.0 L479.4,528.0 L480.6,525.0 L482.0,524.0 L483.4,527.0 L484.6,533.0 L486.0,541.0 L487.0,544.0 L488.4,539.0 L489.6,541.0 L490.6,547.0 L491.6,550.0 L492.6,544.0 L494.0,531.0 L495.4,525.0 L497.0,522.6 L498.6,522.0 L500.0,519.0 L501.4,516.6 L502.6,519.0 L504.0,521.4 L505.4,521.0 L506.6,516.0 L507.6,507.0 L508.6,505.4 L509.6,519.0 L510.6,533.0 L511.6,536.6 L513.0,531.0 L514.4,521.0 L515.6,514.0 L517.0,512.0 L518.4,517.0 L519.6,524.0 L520.6,527.0 L521.6,519.0 L523.0,509.0 L524.0,506.0 L525.4,509.0 L527.0,513.0 L528.4,515.0 L530.0,518.0 L531.4,517.0 L533.0,513.0 L534.4,511.0 L535.6,515.0 L537.0,523.0 L538.4,526.6 L539.6,519.0 L541.0,510.0 L542.4,504.6 L543.6,503.0 L545.0,503.0 L546.4,507.0 L547.6,515.0 L549.0,524.0 L550.4,529.0 L551.6,523.0 L553.0,515.0 L554.0,518.0 L555.0,525.0 L556.4,521.0 L558.0,515.0 L559.4,511.0 L560.6,512.0 L562.0,520.0 L563.4,515.0 L564.6,511.0 L566.0,510.6 L567.4,512.0 L569.0,517.0 L570.4,522.0 L571.6,526.0 L573.0,523.0 L574.4,518.0 L575.6,517.4 L577.0,519.0 L578.4,521.0 L579.6,521.4 L581.0,521.0 L582.4,526.0 L583.6,531.0 L585.0,533.4 L586.4,530.0 L587.6,525.0 L589.0,521.0 L590.0,520.6 L591.4,524.0 L592.6,527.0 L594.0,526.0 L595.0,519.0 L596.0,508.0 L597.0,504.0 L598.0,512.0 L599.4,519.0 L600.6,522.0 L602.0,523.0 L603.0,529.0 L604.0,531.4 L605.0,527.0 L606.0,521.4 L607.0,520.6 L608.4,525.0 L609.6,529.0 L611.0,530.6 L612.0,531.4"/>
<path class="ln" stroke="#ffc000" stroke-width="2.3" d="M69.6,660.0 L70.4,640.0 L71.6,628.0 L73.0,626.4 L75.0,626.0 L77.0,625.0 L79.0,623.6 L80.4,622.4 L82.0,621.6 L83.6,620.0 L85.0,619.0 L86.4,617.0 L88.0,614.0 L89.0,613.0 L90.0,616.0 L91.4,619.6 L93.0,619.0 L94.4,617.6 L95.6,620.0 L97.0,621.0 L98.4,619.0 L99.6,618.4 L101.0,621.0 L102.0,618.0 L103.0,612.0 L104.0,609.6 L105.0,613.0 L106.0,617.0 L107.4,614.0 L108.6,611.0 L110.0,610.4 L111.4,611.6 L113.0,615.0 L114.4,618.0 L116.0,619.0 L117.6,620.0 L119.0,619.0 L120.4,617.0 L122.0,617.0 L123.6,619.0 L125.0,618.0 L126.4,615.0 L127.6,613.0 L129.0,614.0 L130.4,617.0 L132.0,620.0 L133.6,621.0 L135.0,620.0 L136.6,622.0 L138.0,623.6 L139.6,622.4 L141.0,621.6 L142.4,623.0 L144.0,624.0 L145.4,622.0 L146.6,617.0 L147.6,616.4 L149.0,620.0 L150.4,622.4 L152.0,621.0 L153.6,622.0 L155.0,620.0 L156.4,617.0 L157.6,616.0 L159.0,618.4 L160.4,620.0 L162.0,621.0 L163.6,622.4 L165.0,622.0 L166.4,619.0 L168.0,617.0 L169.6,617.0 L171.0,619.0 L172.6,621.6 L174.0,623.6 L175.6,625.0 L177.0,625.6 L178.4,625.0 L180.0,623.6 L181.6,625.0 L183.0,626.4 L184.4,626.0 L186.0,624.0 L187.6,623.6 L189.0,625.0 L190.4,625.6 L192.0,626.4 L193.6,626.0 L195.0,623.0 L196.4,618.0 L197.6,617.6 L199.0,619.0 L200.4,618.0 L201.6,617.0 L203.0,617.6 L204.6,621.0 L206.0,623.0 L207.4,623.6 L209.0,622.0 L210.4,617.0 L212.0,613.0 L213.4,612.0 L215.0,612.4 L216.4,616.0 L218.0,620.0 L219.4,621.0 L221.0,620.0 L222.4,619.0 L224.0,617.0 L225.4,615.0 L227.0,613.0 L228.6,610.4 L230.0,609.6 L231.4,612.0 L233.0,617.0 L234.6,619.6 L236.0,619.6 L237.4,619.0 L239.0,618.4 L240.6,619.0 L242.0,619.2 L243.6,619.6 L245.0,620.0 L246.4,622.4 L247.8,625.0 L249.4,623.0 L251.0,621.6 L252.6,622.4 L254.0,623.0 L255.4,624.4 L257.0,627.0 L258.6,626.4 L260.0,624.4 L261.4,624.0 L263.0,625.0 L264.6,625.0 L266.0,624.0 L267.6,623.6 L269.0,623.0 L270.6,622.4 L272.0,622.0 L273.6,621.6 L275.0,622.4 L276.4,624.0 L277.6,620.0 L279.0,617.0 L280.0,619.0 L281.4,625.0 L283.0,627.6 L284.6,627.0 L286.0,625.0 L287.4,624.0 L289.0,623.0 L290.4,619.0 L291.6,618.0 L293.0,622.0 L294.6,625.6 L296.0,626.4 L297.6,626.4 L299.0,627.0 L300.6,627.6 L302.0,626.4 L303.4,624.0 L305.0,621.0 L306.4,620.0 L308.0,621.6 L309.4,622.4 L311.0,622.0 L312.6,621.6 L314.0,622.4 L315.4,625.0 L317.0,622.4 L318.4,618.0 L319.6,619.0 L321.0,623.0 L322.4,621.0 L323.6,615.0 L325.0,611.0 L326.2,610.4 L327.4,614.0 L329.0,619.0 L330.4,622.0 L332.0,625.0 L333.4,627.0 L335.0,626.4 L336.6,624.0 L338.0,621.0 L339.0,623.0 L340.0,629.0 L341.6,628.0 L343.0,625.0 L344.4,621.0 L345.6,623.0 L347.0,627.0 L348.4,627.6 L350.0,626.0 L351.4,625.0 L352.6,619.0 L354.0,613.0 L355.6,610.4 L357.0,610.0 L358.4,611.6 L360.0,617.0 L361.6,619.0 L363.0,618.0 L364.4,616.0 L365.6,618.4 L367.0,622.0 L368.4,622.4 L369.6,623.0 L370.6,628.0 L372.0,631.0 L373.0,626.0 L374.0,613.0 L375.0,609.0 L376.0,613.0 L377.0,619.0 L378.4,617.0 L380.0,618.0 L381.4,620.0 L382.6,621.0 L383.6,617.0 L384.6,614.0 L385.6,617.0 L387.0,619.0 L388.4,617.0 L389.6,616.0 L391.0,619.0 L392.4,622.0 L393.6,623.6 L395.0,625.0 L396.4,623.0 L397.6,617.0 L398.6,613.6 L399.6,615.0 L401.0,617.0 L402.4,615.0 L403.6,612.0 L404.6,613.0 L406.0,618.0 L407.4,622.0 L408.6,624.0 L410.0,623.0 L411.4,619.0 L412.6,616.4 L414.0,618.0 L415.6,623.0 L417.0,625.0 L418.4,623.6 L420.0,621.0 L421.6,620.0 L423.0,619.6 L425.0,619.6 L427.0,619.6 L429.0,619.6 L431.0,619.6 L433.0,619.6 L435.0,619.0 L437.0,619.0 L439.0,620.0 L441.0,621.6 L443.0,622.0 L445.0,622.0 L447.0,622.4 L449.0,623.0 L451.0,623.6 L452.4,624.0 L454.0,623.0 L455.4,621.0 L456.6,622.0 L458.0,619.0 L459.4,622.0 L460.6,624.4 L462.0,621.0 L463.4,617.0 L465.0,616.0 L466.4,616.4 L467.6,613.0 L469.0,608.0 L470.4,606.0 L471.6,606.4 L473.0,609.0 L474.4,610.4 L476.0,607.6 L477.0,606.4 L478.6,606.0 L479.6,608.0 L480.6,617.0 L482.0,623.0 L483.4,623.0 L484.6,619.0 L486.0,613.0 L487.0,612.4 L488.0,615.0 L489.0,617.0 L490.4,615.0 L491.6,612.0 L493.0,610.4 L494.0,609.6 L495.0,614.0 L496.4,621.0 L497.4,615.0 L498.4,606.0 L499.4,603.6 L500.4,609.0 L501.4,613.0 L502.6,607.0 L503.6,604.4 L504.6,608.0 L505.6,616.0 L506.6,620.0 L508.0,617.0 L509.4,613.0 L511.0,611.0 L512.6,610.4 L514.0,610.0 L515.4,610.4 L516.6,612.0 L518.0,616.0 L519.4,617.0 L521.0,617.6 L522.4,620.0 L523.6,619.0 L524.6,614.0 L526.0,610.4 L527.0,611.0 L528.4,613.6 L530.0,617.0 L531.4,621.0 L532.6,623.6 L533.6,620.0 L535.0,613.0 L536.0,610.4 L537.0,613.0 L538.4,615.0 L540.0,615.6 L541.4,616.4 L543.0,616.0 L544.4,612.0 L545.6,608.0 L547.0,604.4 L548.0,604.0 L549.4,608.0 L551.0,613.0 L552.2,610.0 L553.4,605.6 L554.6,605.0 L555.6,606.0 L556.6,610.0 L557.6,617.0 L558.6,620.0 L560.0,619.6 L561.4,618.0 L563.0,618.0 L564.6,619.0 L566.0,619.6 L568.0,619.6 L570.0,620.0 L572.0,620.0 L574.0,620.0 L575.4,619.0 L576.6,615.6 L577.6,615.0 L578.6,618.0 L580.0,622.0 L581.4,622.4 L582.6,619.0 L584.0,616.0 L585.4,615.6 L586.6,619.0 L588.0,618.4 L589.4,616.0 L590.6,613.6 L592.0,615.0 L593.4,618.0 L595.0,619.0 L596.4,619.6 L597.4,619.6"/>
<path class="ln" stroke="#5b9bd5" stroke-width="2" d="M12.8,762.2 H49.7"/>
<text x="60.4" y="766.4" font-size="14" textLength="30.5" lengthAdjust="spacingAndGlyphs" style="fill:#4a4a4a">TLR2</text>
<path class="ln" stroke="#ed7d31" stroke-width="2" d="M177,762.2 H214"/>
<text x="221.7" y="763.3" font-size="14" textLength="101.4" lengthAdjust="spacingAndGlyphs">TLR2 in complex</text>
<path class="ln" stroke="#a5a5a5" stroke-width="2" d="M366.8,762.2 H403"/>
<text x="410.8" y="763.3" font-size="14" textLength="32.5" lengthAdjust="spacingAndGlyphs">TLR1</text>
<path class="ln" stroke="#ffc000" stroke-width="2" d="M529.5,762.2 H567.5"/>
<text x="580" y="765" font-size="14" textLength="31" lengthAdjust="spacingAndGlyphs">TLR1</text>
<text x="619.5" y="765" font-size="14" textLength="66" lengthAdjust="spacingAndGlyphs">in complex</text>
</svg></body></html>
